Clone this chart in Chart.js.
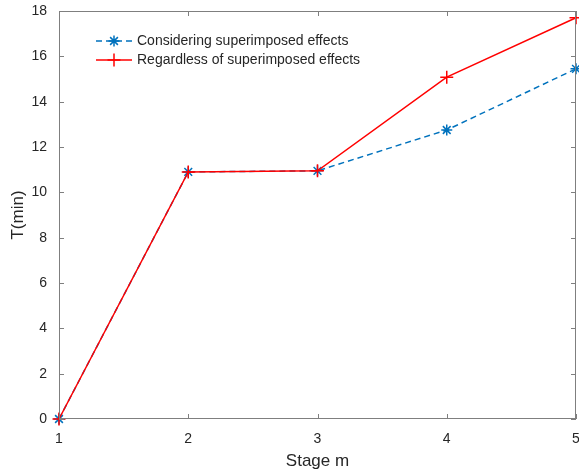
<!DOCTYPE html>
<html lang="en">
<head>
  <meta charset="UTF-8">
  <title>T vs Stage m</title>
  <script src="https://cdn.jsdelivr.net/npm/chart.js"></script>
  <style>
    html, body { margin: 0; padding: 0; background: #fff; overflow: hidden; }
    #wrap { width: 579px; height: 476px; position: relative; }
    #cvs { display: block; }
  </style>
</head>
<body>
<div id="wrap"><canvas id="cvs"></canvas></div>
<script>
const stages = [1, 2, 3, 4, 5];
const considering = [0, 10.9, 10.95, 12.75, 15.45];
const regardless = [0, 10.9, 10.95, 15.08, 17.7];
const yTicks = [0, 2, 4, 6, 8, 10, 12, 14, 16, 18];
const labels = ['Considering superimposed effects', 'Regardless of superimposed effects'];

const axisColor = '#7f7f7f';
const textColor = '#262626';
const fontFamily = "'Liberation Sans', Arial, sans-serif";

// box + inward ticks, MATLAB style
const boxPlugin = {
  id: 'box',
  afterDraw(chart) {
    const { ctx, chartArea: a, scales } = chart;
    ctx.save();
    ctx.strokeStyle = axisColor;
    ctx.lineWidth = 1;
    ctx.strokeRect(a.left + 0.5, a.top + 0.5, a.right - a.left - 1, a.bottom - a.top - 1);
    const len = 5;
    ctx.beginPath();
    yTicks.forEach(v => {
      const y = Math.round(scales.y.getPixelForValue(v)) + 0.5;
      ctx.moveTo(a.left, y); ctx.lineTo(a.left + len, y);
      ctx.moveTo(a.right, y); ctx.lineTo(a.right - len, y);
    });
    stages.forEach(v => {
      const x = Math.round(scales.x.getPixelForValue(v)) + 0.5;
      ctx.moveTo(x, a.bottom); ctx.lineTo(x, a.bottom - len);
      ctx.moveTo(x, a.top); ctx.lineTo(x, a.top + len);
    });
    ctx.stroke();

    // legend
    const lx = 96, ly = 41, gap = 19;
    chart.data.datasets.forEach((ds, i) => {
      const y = ly + i * gap;
      ctx.strokeStyle = ds.borderColor;
      ctx.lineWidth = ds.borderWidth;
      ctx.setLineDash(ds.borderDash || []);
      ctx.beginPath();
      ctx.moveTo(lx, y); ctx.lineTo(lx + 36, y);
      ctx.stroke();
      ctx.setLineDash([]);
      Chart.helpers.drawPoint(ctx, {
        pointStyle: ds.pointStyle, radius: ds.pointRadius, borderWidth: 1.5
      }, lx + 18, y);
      ctx.fillStyle = textColor;
      ctx.font = `14px ${fontFamily}`;
      ctx.textBaseline = 'middle';
      ctx.fillText(ds.label, lx + 41, y);
    });
    ctx.restore();
  }
};

const noPad = s => {
  s.paddingLeft = s.paddingRight = s.paddingTop = s.paddingBottom = 0;
};

new Chart(document.getElementById('cvs'), {
  type: 'line',
  data: {
    datasets: [
      {
        label: labels[0],
        data: stages.map((s, i) => ({ x: s, y: considering[i] })),
        borderColor: '#0072BD',
        backgroundColor: '#0072BD',
        borderWidth: 1.5,
        borderDash: [6, 4],
        pointStyle: 'star',
        pointRadius: 5.5,
        pointBorderWidth: 1.5,
        clip: false,
        order: 1
      },
      {
        label: labels[1],
        data: stages.map((s, i) => ({ x: s, y: regardless[i] })),
        borderColor: '#FF0000',
        backgroundColor: '#FF0000',
        borderWidth: 1.5,
        pointStyle: 'cross',
        pointRadius: 6.5,
        pointBorderWidth: 1.5,
        clip: false,
        order: 0
      }
    ]
  },
  options: {
    responsive: true,
    maintainAspectRatio: false,
    animation: false,
    layout: { autoPadding: false, padding: { top: 11, right: 3, left: 0, bottom: 0 } },
    plugins: { legend: { display: false }, tooltip: { enabled: false } },
    scales: {
      x: {
        type: 'linear', min: 1, max: 5,
        afterBuildTicks: s => { s.ticks = stages.map(v => ({ value: v })); },
        afterFit: s => { s.height = 57; noPad(s); },
        grid: { display: false },
        border: { display: false },
        ticks: { color: textColor, font: { size: 14, family: fontFamily }, padding: 4 },
        title: { display: true, text: 'Stage m', color: textColor, font: { size: 17, family: fontFamily }, padding: { top: 2 } }
      },
      y: {
        min: 0, max: 18,
        afterBuildTicks: s => { s.ticks = yTicks.map(v => ({ value: v })); },
        afterFit: s => { s.width = 59; noPad(s); },
        grid: { display: false },
        border: { display: false },
        ticks: { color: textColor, font: { size: 14, family: fontFamily }, padding: 4 },
        title: { display: true, text: 'T(min)', color: textColor, font: { size: 17, family: fontFamily }, padding: { top: 8, bottom: 2 } }
      }
    }
  },
  plugins: [boxPlugin]
});
</script>
</body>
</html>
